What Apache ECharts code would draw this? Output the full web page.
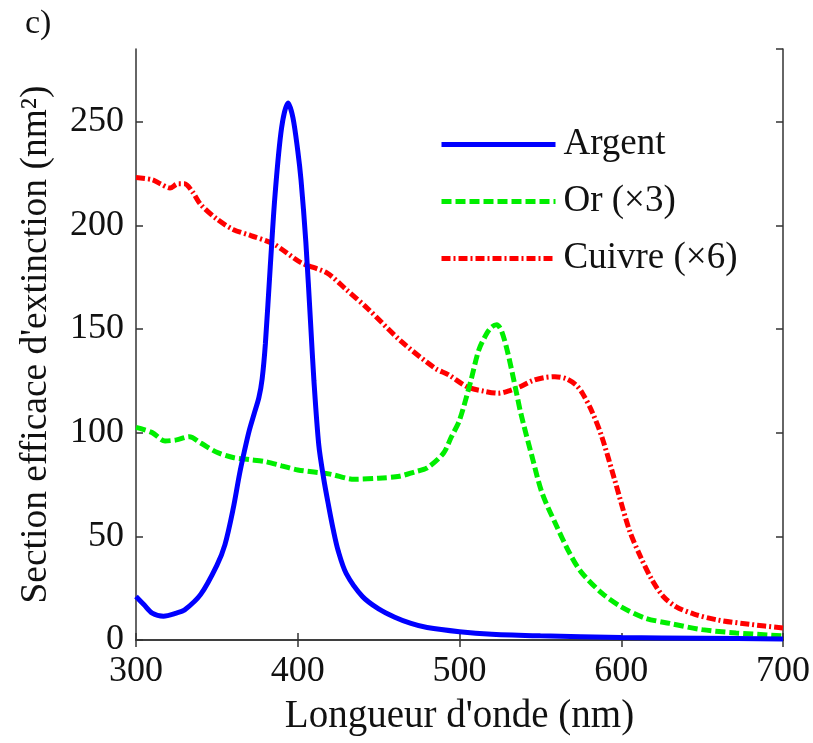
<!DOCTYPE html>
<html>
<head>
    <meta charset="UTF-8">
    <title>Section efficace d'extinction</title>
    <script src="https://cdn.jsdelivr.net/npm/echarts@6/dist/echarts.min.js"></script>
    <style>
        html, body { margin: 0; padding: 0; background: #fff; }
        #chart { width: 813px; height: 743px; }
    </style>
</head>
<body>
    <div id="chart"></div>

    <script>
        // longueurs d'onde (nm) et sections efficaces (nm²)
        const argentX = [300, 305, 310, 317, 325, 330, 340, 350, 355, 360, 364, 367, 370, 373, 376, 378, 380, 383, 386, 390, 394, 397, 400, 402, 405, 408, 410, 413, 416, 419, 422, 425, 430, 440, 450, 460, 470, 480, 500, 520, 550, 600, 650, 700];
        const argentY = [21, 17, 13, 11.5, 13, 14.5, 22, 36, 46, 63, 80, 91, 101, 109, 117, 126, 143, 180, 215, 247, 259, 252, 236, 222, 192, 152, 125, 94, 78, 65, 53, 43, 32, 21, 15, 11, 8, 6, 4, 2.8, 2, 1.2, 0.8, 0.5];

        const orX = [300, 310, 318, 325, 333, 340, 350, 360, 370, 380, 390, 400, 420, 435, 450, 463, 472, 480, 490, 495, 500, 507, 512, 517, 520, 523, 526, 530, 535, 538, 545, 551, 560, 568, 575, 588, 600, 615, 630, 650, 671, 700];
        const orY = [102.5, 100, 96, 96.5, 98, 95, 90.5, 88, 87, 86, 84, 82, 80, 77.5, 78, 79, 81, 83, 90, 98, 106, 125, 140, 148, 151, 152, 149, 138, 120, 109, 88, 71, 55, 42, 33, 22.6, 16, 10.5, 8, 5, 3.4, 2];

        const cuivreX = [300, 310, 315, 321, 326, 330, 335, 340, 350, 360, 371, 385, 402, 418, 430, 443, 464, 485, 493, 505, 515, 524, 530, 537, 545, 552, 559, 566, 572, 576, 582, 588, 596, 605, 612, 619, 626, 634, 645, 660, 680, 700];
        const cuivreY = [223, 222, 220, 218, 220, 220, 216, 210, 203, 198, 195, 191, 182, 177, 169, 160, 144, 131, 128, 122, 120, 119, 120, 122, 125, 126.5, 127, 126, 123, 119, 110, 98, 77, 53, 40, 29, 21, 16, 12.5, 9.6, 7.5, 5.8];

        const seriesNames = ['Argent', 'Or (\u00d73)', 'Cuivre (\u00d76)'];
        const xTicks = [300, 400, 500, 600, 700];

        const pairs = (xs, ys) => xs.map((x, i) => [x, ys[i]]);

        const font = 'Liberation Serif';
        const chart = echarts.init(document.getElementById('chart'));

        const axisLine = { show: true, lineStyle: { color: '#333', width: 1.5 } };
        const tick = { show: true, inside: true, length: 7, lineStyle: { color: '#333', width: 1.5 } };

        const option = {
            backgroundColor: '#fff',
            animation: false,
            title: {
                text: 'c)',
                left: 20,
                top: 2,
                textStyle: { fontFamily: font, fontSize: 34, fontWeight: 'normal', color: '#111' }
            },
            legend: {
                data: seriesNames,
                orient: 'vertical',
                left: 434,
                top: 121,
                itemWidth: 114,
                itemHeight: 20,
                itemGap: 20,
                itemStyle: { opacity: 0 },
                lineStyle: { width: 5 },
                textStyle: { fontFamily: font, fontSize: 37, lineHeight: 36, color: '#111', padding: [0, 0, 0, 3] }
            },
            grid: { left: 136, right: 30, top: 49, bottom: 103 },
            xAxis: [{
                type: 'value',
                min: xTicks[0],
                max: xTicks[xTicks.length - 1],
                interval: 100,
                name: "Longueur d'onde (nm)",
                nameLocation: 'middle',
                nameGap: 57,
                nameTextStyle: { fontFamily: font, fontSize: 39, color: '#111' },
                axisLine: axisLine,
                axisTick: tick,
                splitLine: { show: false },
                axisLabel: { fontFamily: font, fontSize: 36, color: '#111', margin: 14 }
            }, {
                type: 'value',
                position: 'top',
                min: 300, max: 700, interval: 100,
                axisLine: axisLine,
                axisTick: tick,
                splitLine: { show: false },
                axisLabel: { show: false }
            }],
            yAxis: [{
                type: 'value',
                min: 0,
                max: 285,
                interval: 50,
                name: "Section efficace d'extinction (nm\u00b2)",
                nameLocation: 'middle',
                nameGap: 81,
                nameTextStyle: { fontFamily: font, fontSize: 37.5, color: '#111' },
                axisLine: axisLine,
                axisTick: tick,
                splitLine: { show: false },
                axisLabel: { fontFamily: font, fontSize: 36, color: '#111', margin: 12, showMaxLabel: false }
            }, {
                type: 'value',
                position: 'right',
                min: 0, max: 285, interval: 50,
                axisLine: axisLine,
                axisTick: tick,
                splitLine: { show: false },
                axisLabel: { show: false }
            }],
            series: [{
                name: seriesNames[0],
                type: 'line',
                data: pairs(argentX, argentY),
                smooth: 0.3,
                symbol: 'none',
                lineStyle: { color: '#0000ff', width: 5 },
                itemStyle: { color: '#0000ff' },
                z: 3
            }, {
                name: seriesNames[1],
                type: 'line',
                data: pairs(orX, orY),
                smooth: 0.3,
                symbol: 'none',
                lineStyle: { color: '#00ee00', width: 5, type: [10, 4] },
                itemStyle: { color: '#00ee00' },
                z: 2
            }, {
                name: seriesNames[2],
                type: 'line',
                data: pairs(cuivreX, cuivreY),
                smooth: 0.3,
                symbol: 'none',
                lineStyle: { color: '#ff0000', width: 5, type: [9, 3, 2, 3] },
                itemStyle: { color: '#ff0000' },
                z: 1
            }]
        };

        chart.setOption(option);
    </script>
</body>
</html>
